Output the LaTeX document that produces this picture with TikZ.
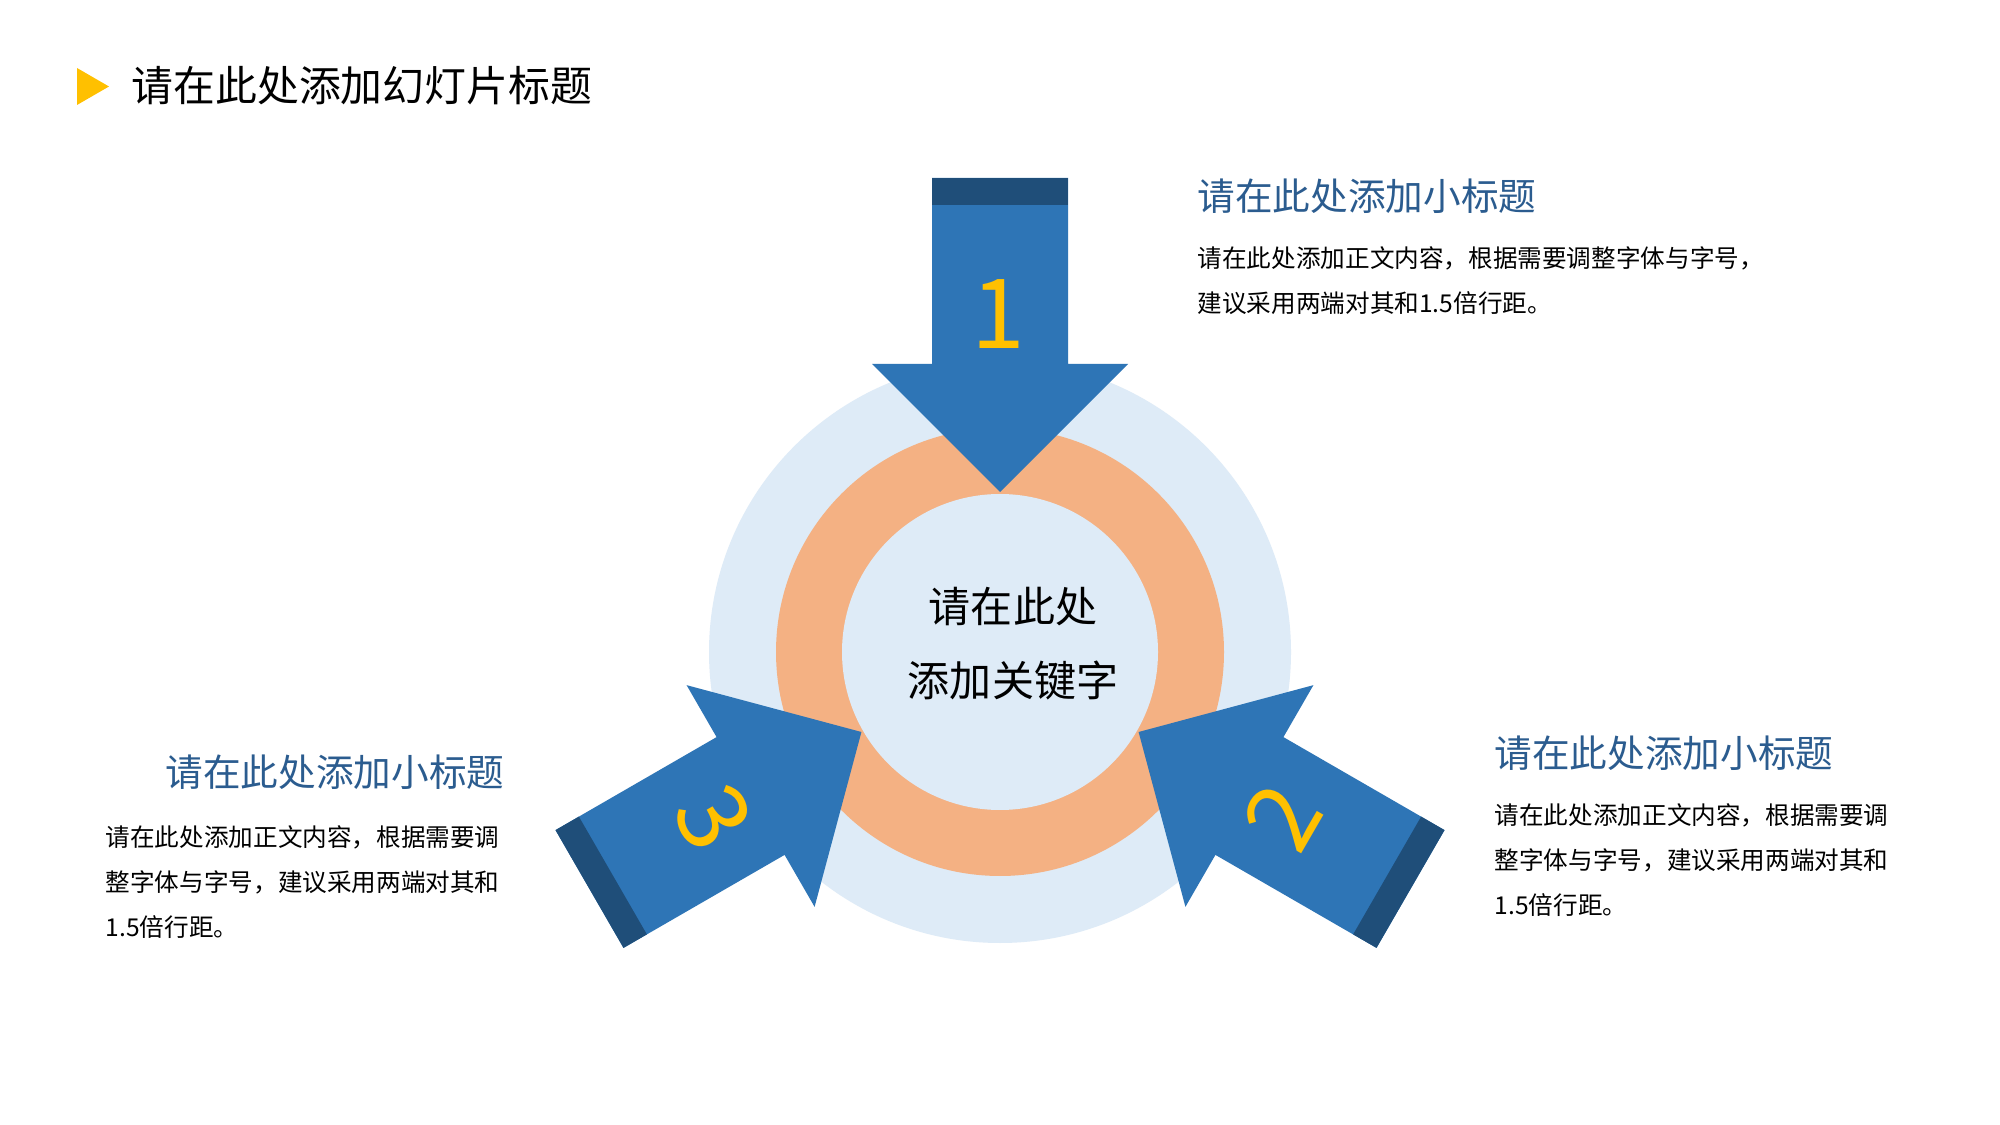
\documentclass[tikz,border=0pt]{standalone}
\usepackage{fontspec}
\setmainfont{Noto Sans CJK SC}
\definecolor{arrowblue}{HTML}{2E75B6}
\definecolor{banddark}{HTML}{1F4E79}
\definecolor{ringorange}{HTML}{F4B183}
\definecolor{paleblue}{HTML}{DEEBF7}
\definecolor{numgold}{HTML}{FFC000}
\definecolor{subblue}{HTML}{2B5C8F}
\tikzset{
  subtitle/.style={inner sep=0, text=subblue, font=\fontsize{10.7}{12}\selectfont},
  bodytext/.style={inner sep=0, align=left, font=\fontsize{7}{12.8}\selectfont},
  numlabel/.style={inner sep=0, text=numgold, font=\fontsize{27.5}{30}\selectfont}
}
\begin{document}
\begin{tikzpicture}[x=0.01cm,y=-0.01cm]
\useasboundingbox (0,0) rectangle (2000,1125);
\fill[white] (0,0) rectangle (2000,1125);
% title
\fill[numgold] (77,68)--(109,86.5)--(77,105)--cycle;
\node[anchor=west,inner sep=0,font=\fontsize{11.9}{14}\selectfont] (title) at (131,86) {请在此处添加幻灯片标题};
% rings
\fill[paleblue] (1000,652) circle (291);
\fill[ringorange] (1000,652) circle (224);
\fill[paleblue] (1000,652) circle (158);
% three arrows
\foreach \rot in {0,-120,120} {
\begin{scope}[shift={(1000,652)},rotate=\rot]
\fill[arrowblue] (0,-160)--(128,-288)--(68,-288)--(68,-474)--(-68,-474)--(-68,-288)--(-128,-288)--cycle;
\fill[banddark] (-68,-474) rectangle (68,-447);
\end{scope}
}
\node[numlabel] (num1) at (998,314) {1};
\node[numlabel,rotate=60] (num2) at (1282,817) {2};
\node[numlabel,rotate=-60] (num3) at (714,818) {3};
% centre
\node[inner sep=0,align=center,font=\fontsize{11.95}{21}\selectfont] (key) at (1013,644) {请在此处\\添加关键字};
% texts
\node[subtitle,anchor=west] (sub1) at (1197,196) {请在此处添加小标题};
\node[bodytext,anchor=north west] (body1) at (1197,246) {请在此处添加正文内容，根据需要调整字体与字号，\\建议采用两端对其和1.5倍行距。};
\node[subtitle,anchor=west] (sub2) at (1494,753) {请在此处添加小标题};
\node[bodytext,anchor=north west] (body2) at (1494,803) {请在此处添加正文内容，根据需要调\\整字体与字号，建议采用两端对其和\\1.5倍行距。};
\node[subtitle,anchor=east] (sub3) at (505,772) {请在此处添加小标题};
\node[bodytext,anchor=north west] (body3) at (105,825) {请在此处添加正文内容，根据需要调\\整字体与字号，建议采用两端对其和\\1.5倍行距。};
\end{tikzpicture}
\end{document}
